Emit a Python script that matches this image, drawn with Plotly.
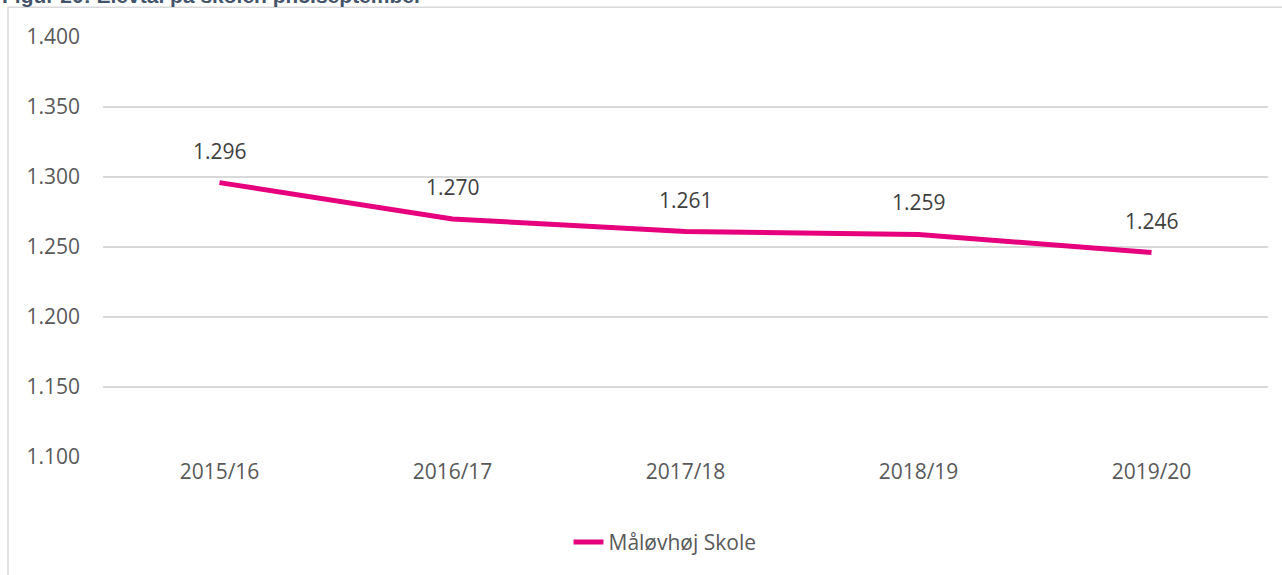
import plotly.graph_objects as go

categories = ["2015/16", "2016/17", "2017/18", "2018/19", "2019/20"]
values = [1296, 1270, 1261, 1259, 1246]
labels = ["1.296", "1.270", "1.261", "1.259", "1.246"]
y_ticks = [1100, 1150, 1200, 1250, 1300, 1350, 1400]
y_tick_labels = ["1.100", "1.150", "1.200", "1.250", "1.300", "1.350", "1.400"]
series_name = "Måløvhøj Skole"
title_text = "Figur 20: Elevtal på skolen pr.5.september"

W, H = 1282, 575
ml, mr, mt, mb = 103, 14, 37, 115
pw = W - ml - mr
ph = H - mt - mb

font_family = "Open Sans, Noto Sans, Arial"
txt_color = "#595959"
line_color = "#E6007E"
fs = 21

fig = go.Figure()
fig.add_trace(go.Scatter(
    x=categories, y=values, mode="lines", name=series_name,
    line=dict(color=line_color, width=5),
    hoverinfo="skip",
))

for c, v, t in zip(categories, values, labels):
    fig.add_annotation(x=c, y=v, text=t, showarrow=False, yshift=32,
                       font=dict(family=font_family, size=fs, color="#404040"))

# outer chart border
fig.add_shape(type="rect", xref="paper", yref="paper",
              x0=(8 - ml) / pw, x1=(W + 10 - ml) / pw,
              y0=-(H + 10 - (mt + ph)) / ph, y1=(mt + ph - 7) / ph,
              line=dict(color="#D9D9D9", width=1.5), fillcolor="rgba(0,0,0,0)", layer="below")

# title (clipped at top as in reference)
fig.add_annotation(xref="paper", yref="paper", x=(0 - ml) / pw, xanchor="left",
                   y=(mt + ph - 9) / ph, yanchor="bottom", showarrow=False,
                   text="<b>" + title_text + "</b>",
                   font=dict(family="Liberation Sans, Arial", size=21, color="#44546A"))

fig.update_layout(
    width=W, height=H,
    margin=dict(l=ml, r=mr, t=mt, b=mb),
    plot_bgcolor="white", paper_bgcolor="white",
    font=dict(family=font_family, size=fs, color=txt_color),
    showlegend=True,
    legend=dict(orientation="h", x=(665 - ml) / pw, xanchor="center", y=-(546 - (mt + ph)) / ph,
                yanchor="middle", font=dict(family=font_family, size=fs, color=txt_color)),
    xaxis=dict(type="category", range=[-0.5, 4.5], showgrid=False, showline=False,
               ticks="", tickfont=dict(size=fs, color=txt_color), zeroline=False),
    yaxis=dict(range=[1100, 1400], tickvals=y_ticks, ticktext=y_tick_labels,
               showgrid=True, gridcolor="#D9D9D9", gridwidth=1.5, zeroline=False,
               showline=False, ticks="", ticklabelstandoff=22,
               tickfont=dict(size=fs, color=txt_color)),
)

fig.write_html("out.html", config={"displayModeBar": False},
               post_script="document.body.style.margin='0px';document.body.style.overflow='hidden';")
